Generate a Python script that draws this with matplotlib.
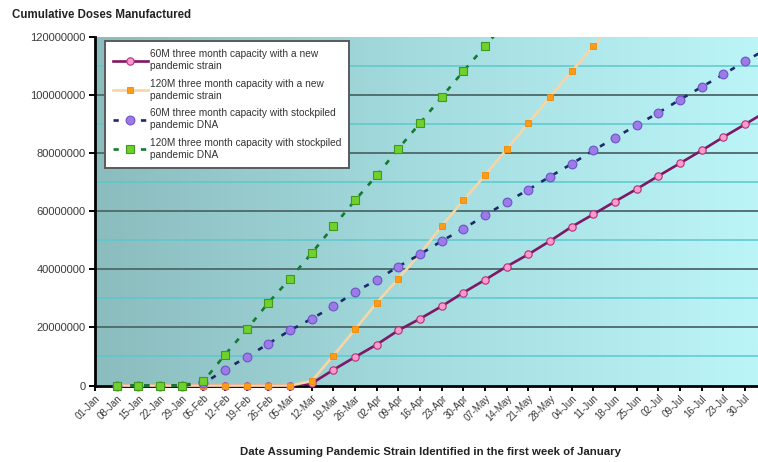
import matplotlib
matplotlib.use('Agg')
from matplotlib import pyplot as plt
from matplotlib.colors import LinearSegmentedColormap
from matplotlib.patches import Rectangle
from matplotlib.ticker import MultipleLocator
import numpy as np

plt.rcParams['font.family'] = ['Liberation Sans', 'DejaVu Sans']

# weekly category labels (position 0 = 01-Jan)
week_labels = ['01-Jan', '08-Jan', '15-Jan', '22-Jan', '29-Jan', '05-Feb', '12-Feb',
               '19-Feb', '26-Feb', '05-Mar', '12-Mar', '19-Mar', '26-Mar', '02-Apr',
               '09-Apr', '16-Apr', '23-Apr', '30-Apr', '07-May', '14-May', '21-May',
               '28-May', '04-Jun', '11-Jun', '18-Jun', '25-Jun', '02-Jul', '09-Jul',
               '16-Jul', '23-Jul', '30-Jul']

# cumulative doses in millions, one value per week starting 08-Jan
new_60m = [0, 0, 0, 0, 0, 0, 0, 0, 0, 0.7, 5.4, 9.8, 14.1, 19.0, 23.0, 27.3, 32.0,
           36.4, 41.0, 45.2, 49.8, 54.7, 59.0, 63.4, 67.7, 72.2, 76.6, 81.0, 85.6,
           90.0, 94.5]
new_120m = [0, 0, 0, 0, 0, 0, 0, 0, 0, 1.5, 10.3, 19.3, 28.5, 36.8, 45.4, 54.9, 63.8,
            72.4, 81.4, 90.4, 99.4, 108.3, 116.9, 125.5]
stock_60m = [0, 0, 0, 0, 0.7, 5.4, 9.8, 14.4, 19.0, 23.0, 27.3, 32.2, 36.4, 41.0,
             45.2, 49.8, 54.0, 58.6, 63.2, 67.5, 72.0, 76.4, 81.0, 85.4, 89.7, 94.0,
             98.5, 102.9, 107.2, 111.7, 116.0]
stock_120m = [0, 0, 0, 0, 1.4, 10.6, 19.3, 28.5, 36.8, 45.6, 54.8, 63.8, 72.4, 81.6,
              90.4, 99.4, 108.3, 116.9, 125.5]

labels = ['60M three month capacity with a new\npandemic strain',
          '120M three month capacity with a new\npandemic strain',
          '60M three month capacity with stockpiled\npandemic DNA',
          '120M three month capacity with stockpiled\npandemic DNA']

fig = plt.figure(figsize=(7.58, 4.62), dpi=100)
ax = fig.add_axes([95 / 758, 76.5 / 462, 663 / 758, 348.2 / 462])
xmax = 30.6
ax.set_xlim(0, xmax)
ax.set_ylim(0, 120e6)

# teal to cyan plot background
bg = LinearSegmentedColormap.from_list('bg', ['#8BBCBE', '#A4DCDF', '#BCF5F8'])
ax.imshow(np.linspace(0, 1, 256).reshape(1, -1), cmap=bg, aspect='auto',
          extent=[0, xmax, 0, 120e6], zorder=0)

for y in np.arange(10e6, 120e6, 20e6):
    ax.axhline(y, color='#5CC8CC', lw=1.1, zorder=1)
for y in np.arange(20e6, 120e6, 20e6):
    ax.axhline(y, color='#4E6868', lw=1.3, zorder=1)

clip = Rectangle((0, -0.05), 1, 1.05, transform=ax.transAxes)


def weeks(vals):
    return np.arange(1, len(vals) + 1)


def mil(vals):
    return np.array(vals) * 1e6


series = [
    ax.plot(weeks(new_60m), mil(new_60m), color='#7E1866', lw=1.9, marker='o', ms=5.3,
            mfc='#FF99CC', mec='#B0307A', mew=0.8, label=labels[0]),
    ax.plot(weeks(new_120m), mil(new_120m), color='#F6D6A6', lw=1.9, marker='s', ms=4.8,
            mfc='#FF9A1A', mec='#F08A00', mew=0.6, label=labels[1]),
    ax.plot(weeks(stock_60m), mil(stock_60m), color='#1C2A6A', lw=1.9, ls=(0, (2, 3.2)),
            marker='o', ms=6.3, mfc='#9C7BE8', mec='#6E52C8', mew=0.8, label=labels[2]),
    ax.plot(weeks(stock_120m), mil(stock_120m), color='#137A2E', lw=1.9, ls=(0, (2, 3.2)),
            marker='s', ms=6, mfc='#6FD02E', mec='#3F9A1C', mew=0.8, label=labels[3]),
]
for s in series:
    s[0].set_zorder(3)
    s[0].set_clip_path(clip)

ax.ticklabel_format(style='plain', axis='y')
ax.yaxis.set_major_locator(MultipleLocator(20e6))
ax.set_xticks(np.arange(len(week_labels)))
ax.set_xticklabels(week_labels, rotation=45, ha='right', rotation_mode='anchor',
                   fontsize=7, color='#3A3A3A')
ax.tick_params(axis='y', labelsize=8, labelcolor='#3A3A3A', length=4, width=1.4, pad=3)
ax.tick_params(axis='x', length=3.5, width=1.4, pad=2)

for side in ['top', 'right']:
    ax.spines[side].set_visible(False)
for side in ['left', 'bottom']:
    ax.spines[side].set_linewidth(2)
    ax.spines[side].set_color('black')

leg = ax.legend(loc='upper left', bbox_to_anchor=(0.015, 0.988), borderaxespad=0,
                fontsize=7.3, handlelength=3.5, labelspacing=0.7, handletextpad=0.15,
                fancybox=False, framealpha=1, edgecolor='#5A5A5A', borderpad=0.75)
leg.get_frame().set_linewidth(1.4)
for t in leg.get_texts():
    t.set_color('#333333')
    t.set_linespacing(1.3)

fig.text(12 / 758, 1 - 15 / 462, 'Cumulative Doses Manufactured', fontsize=8.3,
         fontweight='bold', color='#222222', va='center', ha='left')
fig.text(431 / 758, 1 - 452 / 462,
         'Date Assuming Pandemic Strain Identified in the first week of January',
         fontsize=8.2, fontweight='bold', color='#222222', va='center', ha='center')

plt.savefig('out.png', dpi=100)
